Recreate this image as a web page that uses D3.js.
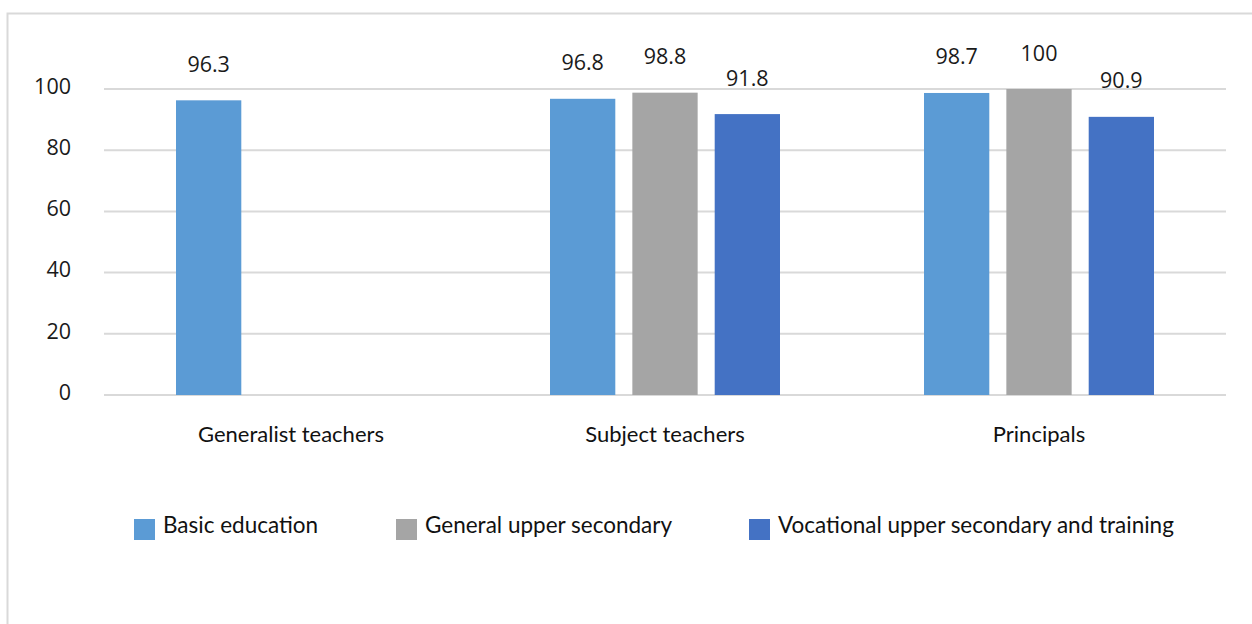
<!DOCTYPE html>
<html>
<head>
<meta charset="utf-8">
<script src="https://cdn.jsdelivr.net/npm/d3@7"></script>
<style>
  html, body { margin: 0; padding: 0; background: #fff; }
  svg { display: block; }
</style>
</head>
<body>
<svg id="chart" width="1252" height="624"></svg>
<script>
// Share of respondents, by role and education level (%)
const categories = ["Generalist teachers", "Subject teachers", "Principals"];
const seriesNames = ["Basic education", "General upper secondary", "Vocational upper secondary and training"];
const basicEducation = [96.3, 96.8, 98.7];
const generalUpperSecondary = [null, 98.8, 100];
const vocationalUpperSecondary = [null, 91.8, 90.9];
const yTicks = [0, 20, 40, 60, 80, 100];
const colors = ["#5b9bd5", "#a5a5a5", "#4472c4"];

const seriesValues = [basicEducation, generalUpperSecondary, vocationalUpperSecondary];

const svg = d3.select("#chart");
const W = 1252, H = 624;

// chart frame
svg.append("rect")
  .attr("x", 7.5).attr("y", 13.5)
  .attr("width", W + 10).attr("height", H + 10)
  .attr("fill", "#fff")
  .attr("stroke", "#d9d9d9")
  .attr("stroke-width", 2);

const plot = { left: 104, right: 1226, top: 89, bottom: 395 };

const x0 = d3.scaleBand()
  .domain(categories)
  .range([plot.left, plot.right])
  .paddingInner(0)
  .paddingOuter(0);

const groupWidth = 230;
const x1 = d3.scaleBand()
  .domain(seriesNames)
  .range([0, groupWidth])
  .paddingInner(0.207)
  .paddingOuter(0);

const y = d3.scaleLinear().domain([0, 100]).range([plot.bottom, plot.top]);

const numFont = "'Open Sans', 'Noto Sans', sans-serif";
const textFont = "Lato, 'Noto Sans', sans-serif";

// gridlines
svg.append("g")
  .selectAll("line")
  .data(yTicks)
  .join("line")
  .attr("x1", plot.left).attr("x2", plot.right)
  .attr("y1", d => y(d)).attr("y2", d => y(d))
  .attr("stroke", "#d9d9d9")
  .attr("stroke-width", 2);

// y axis tick labels
const yAxis = d3.axisLeft(y).tickValues(yTicks).tickSize(0).tickPadding(0);
const yg = svg.append("g")
  .attr("transform", `translate(${71},0)`)
  .call(yAxis);
yg.select(".domain").remove();
yg.selectAll("text")
  .attr("font-family", numFont)
  .attr("font-size", 21.5)
  .attr("fill", "#1a1a1a")
  .attr("dy", "0.2em");

// bars
const rows = [];
categories.forEach((c, i) => {
  seriesNames.forEach((s, j) => {
    const v = seriesValues[j][i];
    if (v != null) rows.push({ category: c, series: s, value: v, j });
  });
});

const groupOffset = (x0.bandwidth() - groupWidth) / 2;

svg.append("g")
  .selectAll("rect")
  .data(rows)
  .join("rect")
  .attr("x", d => x0(d.category) + groupOffset + x1(d.series))
  .attr("y", d => y(d.value))
  .attr("width", x1.bandwidth())
  .attr("height", d => y(0) - y(d.value))
  .attr("fill", d => colors[d.j]);

// value labels
svg.append("g")
  .selectAll("text")
  .data(rows)
  .join("text")
  .attr("x", d => x0(d.category) + groupOffset + x1(d.series) + x1.bandwidth() / 2)
  .attr("y", d => y(d.value) - 28.5)
  .attr("text-anchor", "middle")
  .attr("font-family", numFont)
  .attr("font-size", 21.5)
  .attr("fill", "#1a1a1a")
  .text(d => d.value);

// category labels
svg.append("g")
  .selectAll("text")
  .data(categories)
  .join("text")
  .attr("x", d => x0(d) + x0.bandwidth() / 2)
  .attr("y", 442)
  .attr("text-anchor", "middle")
  .attr("font-family", textFont)
  .attr("font-size", 22)
  .attr("fill", "#111")
  .text(d => d);

// legend
const legendX = [134, 396, 749];
const legend = svg.append("g")
  .selectAll("g")
  .data(seriesNames)
  .join("g")
  .attr("transform", (d, i) => `translate(${legendX[i]},519)`);
legend.append("rect")
  .attr("width", 21).attr("height", 21)
  .attr("fill", (d, i) => colors[i]);
legend.append("text")
  .attr("x", 29).attr("y", 14)
  .attr("font-family", textFont)
  .attr("font-size", 22.5)
  .attr("fill", "#111")
  .text(d => d);
</script>
</body>
</html>
